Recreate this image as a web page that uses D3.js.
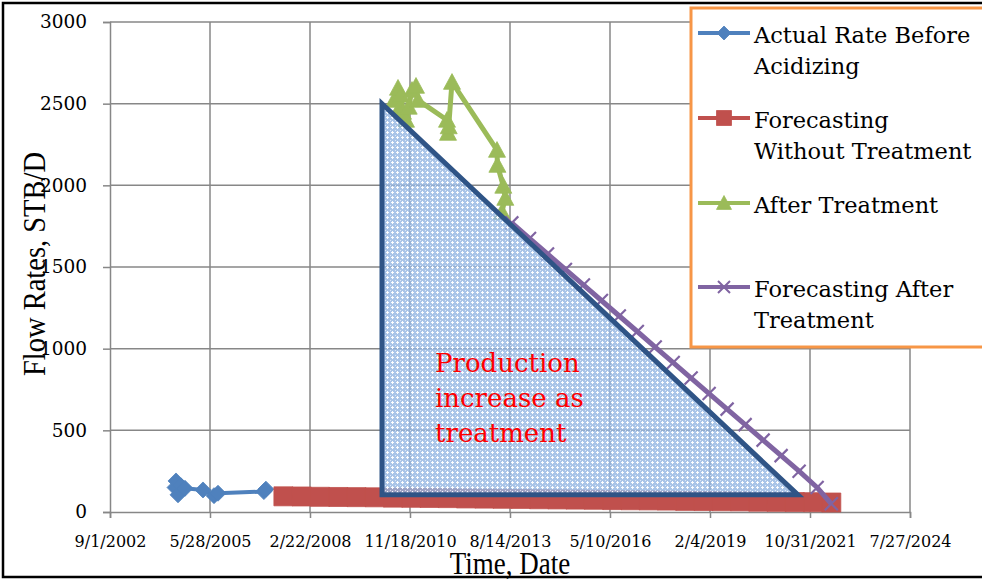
<!DOCTYPE html>
<html><head><meta charset="utf-8">
<script src="https://cdn.jsdelivr.net/npm/d3@7/dist/d3.min.js"></script>
<style>body{margin:0;background:#fff}svg{display:block}</style>
</head><body>
<svg id="chart" width="982" height="580"></svg>
<script>
// ---------- data ----------
const xTickLabels = ["9/1/2002","5/28/2005","2/22/2008","11/18/2010","8/14/2013","5/10/2016","2/4/2019","10/31/2021","7/27/2024"];
const yTicks = [0,500,1000,1500,2000,2500,3000];

const actualDates = ["2004-06-12","2004-06-22","2004-07-12","2004-08-11","2004-09-20","2005-03-19","2005-07-07","2005-08-16","2006-11-18","2006-12-08"];
const actualRates = [150,190,105,160,145,135,100,115,125,140];

const noTreatDates = ["2007-06-01","2007-12-01","2008-06-01","2008-12-01","2009-06-01","2009-12-01","2010-06-01","2010-12-01","2011-06-01","2011-12-01","2012-06-01","2012-12-01","2013-06-01","2013-12-01","2014-06-01","2014-12-01","2015-06-01","2015-12-01","2016-06-01","2016-12-01","2017-06-01","2017-12-01","2018-06-01","2018-12-01","2019-06-01","2019-12-01","2020-06-01","2020-12-01","2021-06-01","2021-12-01","2022-06-01"];
const noTreatRates = [96,95,93,92,91,90,88,87,86,85,83,82,81,80,78,77,76,75,73,72,71,70,68,67,66,65,63,62,61,60,58];

const afterDates = ["2010-06-11","2010-07-21","2010-08-01","2010-08-20","2010-09-09","2010-10-09","2010-11-05","2010-12-08","2011-01-17","2011-02-06","2011-11-23","2011-12-03","2011-12-10","2012-01-12","2013-04-06","2013-04-10","2013-06-08","2013-06-28","2013-05-25"];
const afterRates = [2522,2596,2470,2553,2449,2400,2480,2583,2608,2522,2400,2320,2360,2632,2216,2124,1996,1922,1837];

const fcAfterDates = ["2013-09-01","2014-02-25","2014-08-24","2015-02-19","2015-08-18","2016-02-14","2016-08-11","2017-02-07","2017-08-05","2018-02-01","2018-07-30","2019-01-26","2019-07-25","2020-01-21","2020-07-19","2021-01-15","2021-07-14","2022-01-10","2022-06-01"];
const fcAfterRates = [1770,1675,1580,1485,1390,1295,1200,1105,1010,915,820,725,630,535,440,345,250,150,50];

const areaDates = ["2010-02-11","2010-02-11","2021-07-02"];
const areaRates = [2500,105,105];

const legendLabels = [["Actual Rate Before","Acidizing"],["Forecasting","Without Treatment"],["After Treatment"],["Forecasting After","Treatment"]];
const annotationLines = ["Production","increase as","treatment"];

// ---------- setup ----------
const parseTick = d3.timeParse("%m/%d/%Y");
const parseISO = d3.timeParse("%Y-%m-%d");
const fmtTick = d3.timeFormat("%-m/%-d/%Y");
const tickDates = xTickLabels.map(parseTick);

const svg = d3.select("#chart");
const x = d3.scaleTime().domain([tickDates[0], tickDates[tickDates.length-1]]).range([110, 910]);
const y = d3.scaleLinear().domain([0, 3000]).range([512, 22]);

const C = {blue:"#4F81BD", red:"#C0504D", green:"#9BBB59", purple:"#8064A2", grid:"#878787", tri:"#2F5486"};

svg.append("rect").attr("width",982).attr("height",580).attr("fill","#fff");

const defs = svg.append("defs");
const pat = defs.append("pattern").attr("id","dots").attr("patternUnits","userSpaceOnUse").attr("width",5).attr("height",5);
pat.append("rect").attr("width",5).attr("height",5).attr("fill","#95B6E2").attr("fill-opacity",0.8);
pat.append("rect").attr("x",2).attr("y",1).attr("width",1).attr("height",3).attr("fill","#fff").attr("fill-opacity",0.95);
pat.append("rect").attr("x",1).attr("y",2).attr("width",3).attr("height",1).attr("fill","#fff").attr("fill-opacity",0.95);
pat.append("rect").attr("x",0).attr("y",0).attr("width",1).attr("height",1).attr("fill","#fff").attr("fill-opacity",0.6);

// gridlines
const grid = svg.append("g").attr("stroke",C.grid).attr("stroke-width",1.5);
grid.selectAll(".h").data(yTicks.filter(d=>d>0)).join("line")
  .attr("x1",x.range()[0]).attr("x2",x.range()[1]).attr("y1",d=>y(d)).attr("y2",d=>y(d));
grid.selectAll(".v").data(tickDates.slice(1)).join("line")
  .attr("y1",y(0)).attr("y2",y(3000)).attr("x1",d=>x(d)).attr("x2",d=>x(d));

// axes
const yAxis = svg.append("g").attr("transform",`translate(${x.range()[0]},0)`)
  .call(d3.axisLeft(y).tickValues(yTicks).tickSize(7).tickPadding(16).tickFormat(d3.format("d")));
const xAxis = svg.append("g").attr("transform",`translate(0,${y(0)})`)
  .call(d3.axisBottom(x).tickValues(tickDates).tickSize(6).tickPadding(18).tickFormat(fmtTick));
[yAxis,xAxis].forEach(a=>{
  a.select(".domain").attr("stroke",C.grid).attr("stroke-width",1.5);
  a.selectAll(".tick line").attr("stroke",C.grid).attr("stroke-width",1.5);
  a.selectAll("text").attr("fill","#000").attr("font-family","DejaVu Serif").attr("font-size",18.5);
});
xAxis.selectAll("text").attr("font-size",16);

// marker shapes
const diamond = s=>`M0,${-s}L${s},0L0,${s}L${-s},0Z`;
const square = s=>`M${-s},${-s}H${s}V${s}H${-s}Z`;
const triangle = s=>`M0,${-s}L${s},${s*0.85}L${-s},${s*0.85}Z`;
const cross = s=>`M${-s},${-s}L${s},${s}M${-s},${s}L${s},${-s}`;

function series(dates, vals, color, shape, size, lw, markerStroke){
  const pts = dates.map((d,i)=>[x(parseISO(d)), y(vals[i])]);
  const g = svg.append("g");
  g.append("path").attr("d", d3.line()(pts)).attr("fill","none").attr("stroke",color).attr("stroke-width",lw).attr("stroke-linejoin","round");
  g.selectAll("path.m").data(pts).join("path").attr("class","m")
    .attr("transform",p=>`translate(${p[0]},${p[1]})`)
    .attr("d",shape(size))
    .attr("fill", markerStroke ? "none" : color)
    .attr("stroke", color).attr("stroke-width", markerStroke || 0.8);
  return g;
}
series(actualDates, actualRates, C.blue, diamond, 8, 4);
series(noTreatDates, noTreatRates, C.red, square, 9.5, 4);
series(afterDates, afterRates, C.green, triangle, 8.5, 5);
series(fcAfterDates, fcAfterRates, C.purple, cross, 6.5, 5, 2.2);

// production increase area
const triPts = areaDates.map((d,i)=>[x(parseISO(d)), y(areaRates[i])]);
svg.append("path").attr("d", d3.line()(triPts)+"Z")
  .attr("fill","url(#dots)").attr("stroke",C.tri).attr("stroke-width",5).attr("stroke-linejoin","miter");

svg.append("text").attr("x",435).attr("y",372).attr("fill","#FF0000")
  .attr("font-family","DejaVu Serif").attr("font-size",26)
  .selectAll("tspan").data(annotationLines).join("tspan")
  .attr("x",435).attr("dy",(d,i)=>i?35:0).text(d=>d);

// axis titles
svg.append("text").attr("transform","translate(45,264) rotate(-90) scale(0.92,1)")
  .attr("text-anchor","middle").attr("font-family","Liberation Serif").attr("font-size",31).text("Flow Rates, STB/D");
svg.append("text").attr("transform","translate(510,574) scale(0.87,1)")
  .attr("text-anchor","middle").attr("font-family","Liberation Serif").attr("font-size",31).text("Time, Date");

// legend
const lg = svg.append("g");
lg.append("rect").attr("x",691).attr("y",8).attr("width",320).attr("height",339)
  .attr("fill","#fff").attr("stroke","#F79646").attr("stroke-width",3);
const legendItems = [
  {c:C.blue, shape:diamond, s:7, ly:33},
  {c:C.red, shape:square, s:7.5, ly:118},
  {c:C.green, shape:triangle, s:7.5, ly:203},
  {c:C.purple, shape:cross, s:6, ly:287, ms:2}
];
legendItems.forEach((it,i)=>{
  lg.append("line").attr("x1",698).attr("x2",750).attr("y1",it.ly).attr("y2",it.ly).attr("stroke",it.c).attr("stroke-width",4);
  lg.append("path").attr("transform",`translate(724,${it.ly})`).attr("d",it.shape(it.s))
    .attr("fill",it.ms?"none":it.c).attr("stroke",it.c).attr("stroke-width",it.ms||0.8);
  const t = lg.append("text").attr("font-family","DejaVu Serif").attr("font-size",22.5).attr("fill","#000");
  legendLabels[i].forEach((l,j)=>t.append("tspan").attr("x",754).attr("y",it.ly+10+j*31).text(l));
});

// outer border
svg.append("rect").attr("x",3).attr("y",3).attr("width",1000).attr("height",574)
  .attr("fill","none").attr("stroke","#000").attr("stroke-width",2.5);
</script>
</body></html>
